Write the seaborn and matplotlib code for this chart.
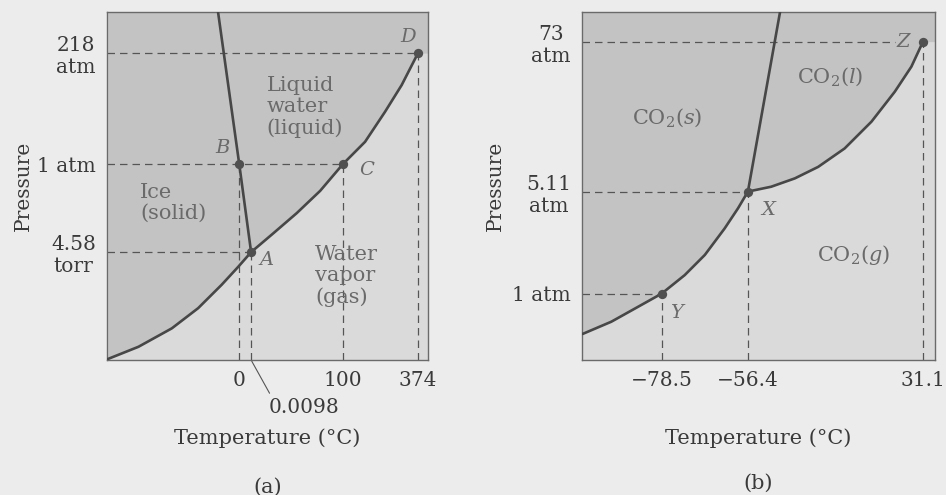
import matplotlib
matplotlib.use('Agg')
import matplotlib.pyplot as plt
import seaborn as sns
import pandas as pd

# schematic diagram units: both panels run 0-100 on each axis (not to scale)

# (a) water
water_vap_x = [0.3, 9.8, 20.2, 28.4, 35.7, 40.9, 44.9, 51.8, 59.1, 66.4, 73.5, 80.4, 86.6, 91.8, 96.9]
water_vap_y = [0.3, 3.8, 9.1, 14.9, 21.6, 26.8, 31.0, 36.4, 42.2, 48.6, 56.3, 62.7, 71.3, 79.0, 88.2]
water_melt_x = [44.9, 41.2, 34.6]
water_melt_y = [31.0, 56.3, 100]
water_pts = ['A', 'B', 'C', 'D']
water_pts_x = [44.9, 41.2, 73.5, 96.9]
water_pts_y = [31.0, 56.3, 56.3, 88.2]
water_xticks = ['0', '100', '374']
water_yticks = ['4.58\ntorr', '1 atm', '218\natm']

# (b) carbon dioxide
co2_sub_x = [0.2, 8.3, 15.9, 22.6, 29.1, 34.8, 40.4, 44.2, 47.0]
co2_sub_y = [7.5, 11.0, 15.3, 19.1, 24.4, 30.2, 37.8, 43.6, 48.4]
co2_vap_x = [47.0, 53.6, 60.3, 66.9, 74.4, 82.0, 88.6, 93.3, 96.6]
co2_vap_y = [48.4, 49.8, 52.2, 55.5, 60.8, 68.5, 77.1, 84.3, 91.5]
co2_melt_x = [47.0, 56.1]
co2_melt_y = [48.4, 100]
co2_pts = ['Y', 'X', 'Z']
co2_pts_x = [22.6, 47.0, 96.6]
co2_pts_y = [19.1, 48.4, 91.5]
co2_xticks = ['\u221278.5', '\u221256.4', '31.1']
co2_yticks = ['1 atm', '5.11\natm', '73\natm']

sns.set_theme(style='white')
plt.rcParams['font.family'] = ['DejaVu Serif']
plt.rcParams['mathtext.fontset'] = 'dejavuserif'

BG = '#ececec'
DARK = '#c3c3c3'
LIGHT = '#dadada'
INK = '#474747'
TXT = '#3a3a3a'
GREY_TXT = '#6a6a6a'
DASH = dict(color='#555555', lw=0.9, dashes=(6, 4), zorder=2)

fig = plt.figure(figsize=(9.46, 4.95), dpi=100)
fig.patch.set_facecolor(BG)
ax_a = fig.add_axes([0.1131, 0.2727, 0.3393, 0.7030])
ax_b = fig.add_axes([0.6152, 0.2727, 0.3732, 0.7030])


def base(ax):
    ax.set_xlim(0, 100)
    ax.set_ylim(0, 100)
    ax.set_facecolor(LIGHT)
    for s in ax.spines.values():
        s.set_color('#6a6a6a')
        s.set_linewidth(1.0)
    ax.tick_params(length=0, pad=8, labelsize=14.5, labelcolor=TXT)
    ax.grid(False)


# ---- panel (a)
base(ax_a)
ax_a.fill_between(water_vap_x + [100], water_vap_y + [water_vap_y[-1]], 100,
                  color=DARK, lw=0, zorder=1)
# horizontal dashes: A, B-C (one line), D
for i in [0, 2, 3]:
    ax_a.plot([0, water_pts_x[i]], [water_pts_y[i]] * 2, **DASH)
for x, y in zip(water_pts_x, water_pts_y):
    ax_a.plot([x, x], [0, y], **DASH)

vap_a = pd.DataFrame({'x': water_vap_x, 'y': water_vap_y})
melt_a = pd.DataFrame({'x': water_melt_x, 'y': water_melt_y})
sns.lineplot(data=vap_a, x='x', y='y', sort=False, color=INK, lw=1.9, ax=ax_a, zorder=3)
sns.lineplot(data=melt_a, x='x', y='y', sort=False, color=INK, lw=1.9, ax=ax_a, zorder=3)
sns.scatterplot(x=water_pts_x, y=water_pts_y, color='#505050', s=45, linewidth=0,
                ax=ax_a, zorder=4, clip_on=False)

ax_a.set_xticks([water_pts_x[1], water_pts_x[2], water_pts_x[3]], water_xticks)
ax_a.set_yticks([water_pts_y[0], water_pts_y[1], water_pts_y[3]], water_yticks)
for t in ax_a.get_yticklabels():
    t.set_multialignment('center')
ax_a.annotate('0.0098', xy=(water_pts_x[0], 0), xytext=(38, -34),
              textcoords='offset points', ha='center', va='center', fontsize=14.5,
              color=TXT, annotation_clip=False,
              arrowprops=dict(arrowstyle='-', color='#555555', lw=0.8,
                              shrinkA=1, shrinkB=1, relpos=(0.05, 1.0)))

letter_off_a = [(4.9, -2.3), (-5.1, 4.6), (7.5, -1.7), (-3.1, 4.6)]
for n, x, y, (dx, dy) in zip(water_pts, water_pts_x, water_pts_y, letter_off_a):
    ax_a.text(x + dx, y + dy, n, style='italic', fontsize=14, color=GREY_TXT,
              ha='center', va='center', zorder=5)

ax_a.text(49.8, 72.7, 'Liquid\nwater\n(liquid)', ha='left', va='center', fontsize=15,
          color=GREY_TXT, linespacing=1.15)
ax_a.text(10.3, 45.1, 'Ice\n(solid)', ha='left', va='center', fontsize=15,
          color=GREY_TXT, linespacing=1.15)
ax_a.text(64.8, 24.1, 'Water\nvapor\n(gas)', ha='left', va='center', fontsize=15,
          color=GREY_TXT, linespacing=1.15)

ax_a.set_xlabel('Temperature (\u00b0C)', fontsize=15, color=TXT)
ax_a.set_ylabel('Pressure', fontsize=14.5, color=TXT)
ax_a.xaxis.set_label_coords(0.5, -0.195)
ax_a.yaxis.set_label_coords(-0.23, 0.5)
ax_a.text(0.5, -0.365, '(a)', transform=ax_a.transAxes, ha='center', va='center',
          fontsize=15, color=TXT)

# ---- panel (b)
base(ax_b)
curve_b_x = co2_sub_x + co2_vap_x[1:]
curve_b_y = co2_sub_y + co2_vap_y[1:]
ax_b.fill_between(curve_b_x + [100], curve_b_y + [curve_b_y[-1]], 100,
                  color=DARK, lw=0, zorder=1)
for i, (x, y) in enumerate(zip(co2_pts_x, co2_pts_y)):
    ax_b.plot([x, x], [0, y], **DASH)
    # the Z line stops short of its letter
    x_end = x - 8 if co2_pts[i] == 'Z' else x
    ax_b.plot([0, x_end], [y, y], **DASH)

curve_b = pd.DataFrame({'x': curve_b_x, 'y': curve_b_y})
melt_b = pd.DataFrame({'x': co2_melt_x, 'y': co2_melt_y})
sns.lineplot(data=curve_b, x='x', y='y', sort=False, color=INK, lw=1.9, ax=ax_b, zorder=3)
sns.lineplot(data=melt_b, x='x', y='y', sort=False, color=INK, lw=1.9, ax=ax_b, zorder=3)
sns.scatterplot(x=co2_pts_x, y=co2_pts_y, color='#505050', s=45, linewidth=0,
                ax=ax_b, zorder=4, clip_on=False)

ax_b.set_xticks(co2_pts_x, co2_xticks)
ax_b.set_yticks(co2_pts_y, co2_yticks)
for t in ax_b.get_yticklabels():
    t.set_multialignment('center')

letter_off_b = [(4.3, -5.5), (5.7, -5.2), (-5.6, 0.0)]
for n, x, y, (dx, dy) in zip(co2_pts, co2_pts_x, co2_pts_y, letter_off_b):
    ax_b.text(x + dx, y + dy, n, style='italic', fontsize=14, color=GREY_TXT,
              ha='center', va='center', zorder=5)

ax_b.text(24.1, 69.5, r'CO$_2$($s$)', ha='center', va='center', fontsize=15, color=GREY_TXT)
ax_b.text(70.3, 81.3, r'CO$_2$($l$)', ha='center', va='center', fontsize=15, color=GREY_TXT)
ax_b.text(76.8, 30.2, r'CO$_2$($g$)', ha='center', va='center', fontsize=15, color=GREY_TXT)

ax_b.set_xlabel('Temperature (\u00b0C)', fontsize=15, color=TXT)
ax_b.set_ylabel('Pressure', fontsize=14.5, color=TXT)
ax_b.xaxis.set_label_coords(0.5, -0.195)
ax_b.yaxis.set_label_coords(-0.218, 0.5)
ax_b.text(0.5, -0.355, '(b)', transform=ax_b.transAxes, ha='center', va='center',
          fontsize=15, color=TXT)

fig.savefig('out.png', dpi=100, facecolor=BG)
